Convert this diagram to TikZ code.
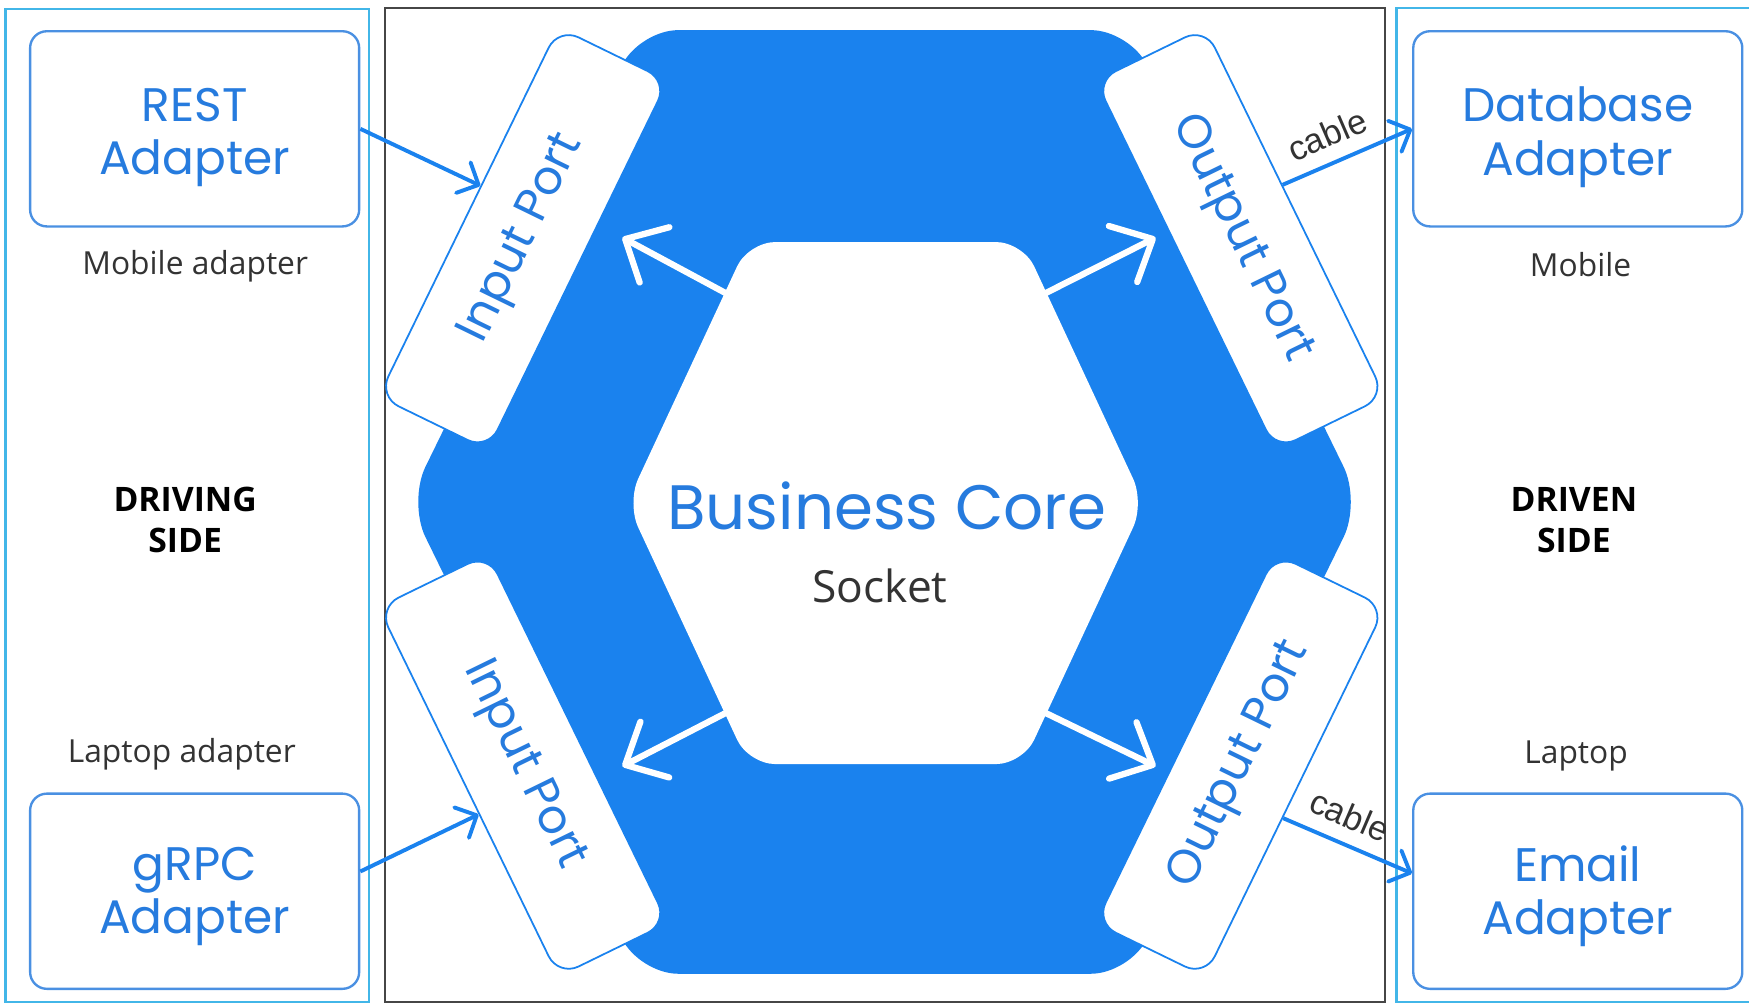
\documentclass[tikz,border=0pt]{standalone}
\usepackage{fontspec}
\setmainfont{Open Sans}
\newfontfamily\geo{Poppins}
\newfontfamily\plain{Liberation Sans}
\usetikzlibrary{arrows.meta,calc}

\definecolor{hexblue}{RGB}{26,130,238}
\definecolor{txtblue}{RGB}{38,123,222}
\definecolor{panelcyan}{RGB}{66,182,232}
\definecolor{boxblue}{RGB}{74,144,226}
\definecolor{txtgray}{RGB}{51,51,51}
\definecolor{framegray}{RGB}{70,70,70}

\begin{document}
\begin{tikzpicture}[x=0.1mm,y=-0.1mm,
  panelbox/.style={draw=panelcyan,line width=0.55pt},
  adapterbox/.style={draw=boxblue,line width=0.6pt,rounded corners=1.5mm,
    minimum width=29.5mm,minimum height=17.5mm,inner sep=0pt},
  adaptertext/.style={text=txtblue,font=\geo\fontsize{12}{13.6}\selectfont,align=center},
  portbox/.style={draw=hexblue,line width=0.45pt,fill=white,rounded corners=2mm,
    minimum width=36.8mm,minimum height=10.9mm,inner sep=0pt,
    text=txtblue,font=\geo\fontsize{12}{14}\selectfont},
  caption/.style={text=txtgray,font=\fontsize{8.1}{10}\selectfont},
  sidelabel/.style={text=black,font=\bfseries\fontsize{8.6}{10.5}\selectfont,align=center},
  wire/.style={draw=hexblue,line width=1pt,-{Straight Barb[length=4.3pt,width=8.6pt,round]}},
  spoke/.style={draw=white,line width=1.6pt,line cap=round,-{Straight Barb[length=8.5pt,width=16pt,round]}},
  cablelabel/.style={sloped,above=3.5pt,pos=0.43,inner sep=0pt,text=txtgray,
    font=\plain\fontsize{8.8}{10}\selectfont}
]
\useasboundingbox (0,0) rectangle (1568,900);

% side panels and the application frame
\draw[panelbox] (5,8) rectangle (331,898.5);
\draw[draw=framegray,line width=0.5pt] (345,7) rectangle (1242,898.5);
\draw[panelbox] (1252,7) rectangle (1580,898.5);

% outer hexagon (ports ring) and inner hexagon (core)
\fill[hexblue,rounded corners=3.5mm]
  (793,27) -- (1013,27) -- (1220,450) -- (1013,873) -- (573,873) -- (366,450) -- (573,27) -- cycle;
\fill[white,rounded corners=2.4mm]
  (794,217) -- (917,217) -- (1026,451) -- (917,685) -- (671,685) -- (562,451) -- (671,217) -- cycle;

% core labels
\node[text=txtblue,font=\geo\fontsize{16}{18}\selectfont] (core) at (795,454) {Business Core};
\node[text=txtgray,font=\fontsize{11.3}{13}\selectfont] (socket) at (789,525) {Socket};

% arrows from the core towards the ports
\coordinate (sTL) at (651,263);  \coordinate (eTL) at (558,213);
\coordinate (sTR) at (937,263);  \coordinate (eTR) at (1036,213);
\coordinate (sBL) at (651,639);  \coordinate (eBL) at (558,687);
\coordinate (sBR) at (937,639);  \coordinate (eBR) at (1036,687);
\draw[spoke] (sTL) -- (eTL);
\draw[spoke] (sTR) -- (eTR);
\draw[spoke] (sBL) -- (eBL);
\draw[spoke] (sBR) -- (eBR);

% ports
\node[portbox,rotate=64]  (pTL) at (469,214) {Input Port};
\node[portbox,rotate=-64] (pTR) at (1112,214) {Output Port};
\node[portbox,rotate=-64] (pBL) at (469,686) {Input Port};
\node[portbox,rotate=64]  (pBR) at (1112,686) {Output Port};

% adapters
\node[adapterbox] (rest)  at (174.5,115.5) {};
\node[adapterbox] (grpc)  at (174.5,799) {};
\node[adapterbox] (db)    at (1414.5,115.5) {};
\node[adapterbox] (email) at (1414.5,799) {};
\node[adaptertext] (restlbl)  at ([yshift=-0.75mm]rest.center)  {REST\\Adapter};
\node[adaptertext] (grpclbl)  at ([yshift=-0.45mm]grpc.center)  {gRPC\\Adapter};
\node[adaptertext] (dblbl)    at ([yshift=-0.75mm]db.center)    {Database\\Adapter};
\node[adaptertext] (emaillbl) at ([yshift=-0.45mm]email.center) {Email\\Adapter};

% captions
\node[caption] (mobad) at (175,239) {Mobile adapter};
\node[caption] (lapad) at (163,676) {Laptop adapter};
\node[caption] (mob)   at (1417,237) {Mobile};
\node[caption] (lap)   at (1413,678) {Laptop};
\node[sidelabel] (driving) at (166,466) {DRIVING\\SIDE};
\node[sidelabel] (driven)  at (1411,466) {DRIVEN\\SIDE};

% connections between adapters and ports
\coordinate (inTL) at ($(pTL.north)!0.14!(pTL.north east)$);
\coordinate (grpcOut) at ($(grpc.north east)!0.40!(grpc.south east)$);
\coordinate (inBL) at ($(pBL.south)!0.12!(pBL.south east)$);
\coordinate (outTR) at ($(pTR.north)!0.145!(pTR.north west)$);
\coordinate (outBR) at ($(pBR.south)!0.14!(pBR.south west)$);
\coordinate (emailIn) at ($(email.north west)!0.41!(email.south west)$);

\draw[wire] (rest.east) -- (inTL);
\draw[wire] (grpcOut) -- (inBL);
\draw[wire] (outTR) -- node[cablelabel] {cable} (db.west);
\draw[wire] (outBR) -- node[cablelabel] {cable} (emailIn);
\end{tikzpicture}
\end{document}
